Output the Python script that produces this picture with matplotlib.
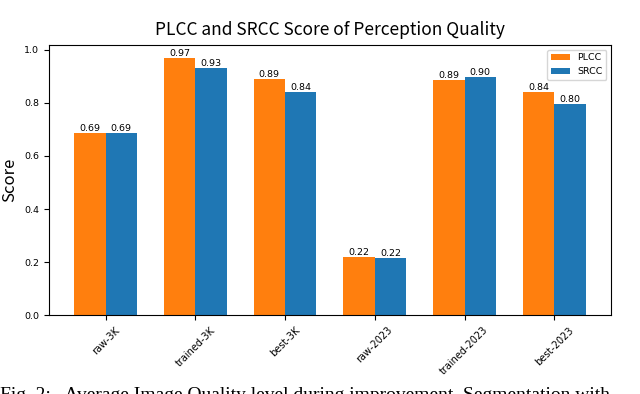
import numpy as np
import matplotlib.pyplot as plt

categories = ['raw-3K', 'trained-3K', 'best-3K', 'raw-2023', 'trained-2023', 'best-2023']
plcc = [0.686, 0.970, 0.890, 0.218, 0.887, 0.842]
srcc = [0.686, 0.933, 0.842, 0.216, 0.897, 0.797]

fig = plt.figure(figsize=(6.4, 3.94), dpi=100)
ax = fig.add_axes([0.076, 0.2, 0.879, 0.686])

x = np.arange(len(categories))
width = 0.35
b1 = ax.bar(x - width / 2, plcc, width, label='PLCC', color='#ff7f0e')
b2 = ax.bar(x + width / 2, srcc, width, label='SRCC', color='#1f77b4')
ax.bar_label(b1, fmt='%.2f', fontsize=6.8)
ax.bar_label(b2, fmt='%.2f', fontsize=6.8)

ax.set_xticks(x)
ax.set_xticklabels(categories, rotation=45, fontsize=7)
ax.tick_params(axis='y', labelsize=6.8)
ax.set_ylabel('Score', fontsize=12, family=['Noto Sans CJK SC', 'DejaVu Sans'])
ax.set_title('PLCC and SRCC Score of Perception Quality', fontsize=12.5,
             family=['Noto Sans CJK SC', 'DejaVu Sans'], fontweight='light', pad=7)
ax.legend(fontsize=6.8, loc='upper right')

# caption of the paper, cut off at the bottom of the crop
fig.text(0.0, 0.018, 'Fig. 2:   Average Image Quality level during improvement. Segmentation with',
         family='Liberation Serif', fontsize=14, va='top', ha='left')

fig.savefig('out.png', dpi=100)
